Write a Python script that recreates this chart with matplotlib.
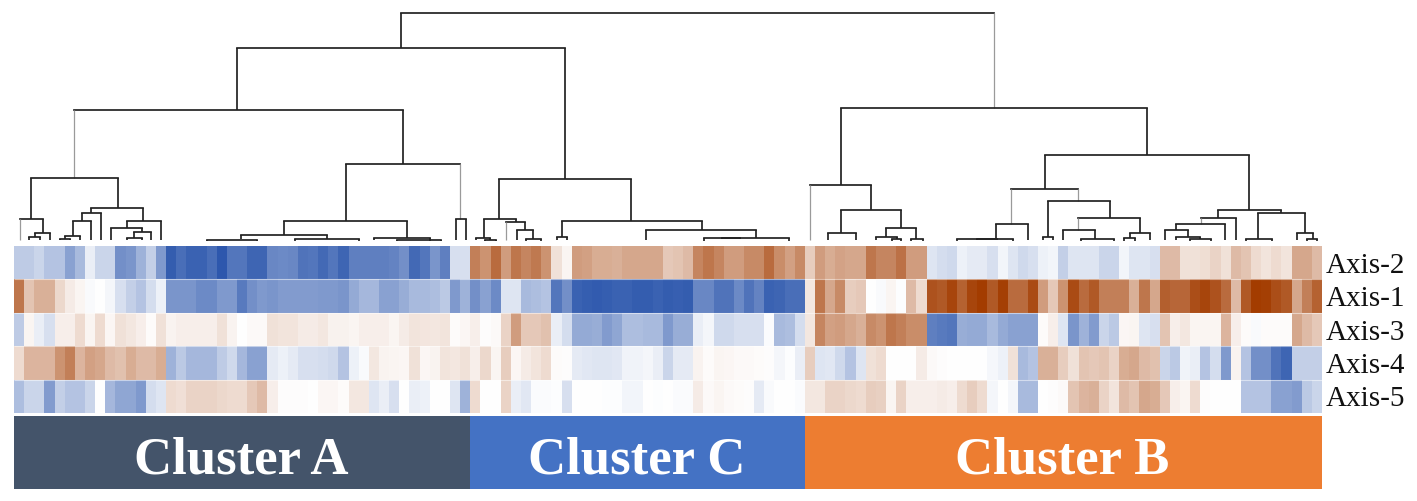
import numpy as np
import matplotlib
matplotlib.use('Agg')
import matplotlib.pyplot as plt
from matplotlib.colors import LinearSegmentedColormap

W, H = 1417, 501

# row labels, top to bottom
axis_names = ['Axis-2', 'Axis-1', 'Axis-3', 'Axis-4', 'Axis-5']

# cluster bands
cluster_names = ['Cluster A', 'Cluster C', 'Cluster B']
cluster_sizes = [45, 33, 51]
cluster_colors = ['#44546A', '#4472C4', '#ED7D31']

# heat values, -100 = full blue, 100 = full brown
axis_2 = [-30, -30, -25, -35, -35, -55, -40, -10, -25, -25, -65, -62, -45, -28, -60,
          -95, -85, -92, -92, -85, -98, -80, -80, -90, -90, -70, -68, -70, -82, -80,
          -88, -80, -90, -75, -75, -75, -75, -72, -65, -88, -80, -62, -75, -18, -18,
          65, 55, 75, 50, 70, 62, 68, 55, 15, 5, 50, 48, 42, 42, 40, 45, 45, 45, 45,
          28, 30, 35, 62, 70, 62, 50, 50, 60, 60, 75, 58, 48, 60,
          25, 50, 42, 47, 45, 45, 70, 62, 62, 72, 50, 50,
          -15, -20, -22, -8, -12, -12, -18, -6, -15, -22, -18, -8, -6, -28, -15, -15,
          -15, -25, -25, -6, -15, -15, -18, 35, 35, 15, 15, 17, 22, 15, 35, 30, 18, 14,
          18, 14, 45, 45, 35]
axis_1 = [70, 30, 40, 40, 20, 10, 5, -3, 0, -5, -18, -28, -35, -20, -8,
          -62, -62, -62, -68, -68, -60, -60, -78, -65, -60, -62, -58, -58, -58, -58,
          -60, -60, -62, -50, -42, -42, -55, -55, -48, -40, -40, -38, -32, -60, -45,
          -65, -55, -68, -15, -15, -40, -38, -35, -80, -65,
          -92, -94, -96, -94, -92, -92, -95, -95, -92, -95, -93, -95,
          -70, -70, -82, -82, -68, -82, -72, -92, -90, -85, -85,
          12, 70, 45, 60, 25, 28, 0, -3, 5, -1, 35, 18,
          88, 85, 95, 80, 95, 100, 85, 98, 75, 75, 92, 50, 28, 55, 92, 75, 85, 65, 65,
          65, 40, 70, 45, 82, 78, 78, 90, 95, 88, 75, 35, 85, 100, 98, 90, 85, 45, 65, 80]
axis_3 = [-30, 5, -10, -18, 8, 8, 18, 5, 18, 4, 15, 12, 8, 2, 15,
          6, 8, 8, 8, 8, 15, 6, 0, 3, 3, 15, 14, 14, 10, 10,
          12, 7, 7, 5, 8, 8, 8, 5, 10, 14, 13, 12, 14, 2, 4,
          8, 1, 3, 22, 50, 28, 28, 32, -10, -20, -50, -50, -48, -58, -52, -38, -38, -40,
          -40, -60, -48, -48, -10, -5, -22, -22, -18, -18, -18, -2, -40, -38, -20,
          12, 62, 48, 50, 45, 40, 60, 55, 70, 65, 58, 58,
          -75, -78, -80, -48, -50, -50, -40, -50, -55, -55, -55, 2, 8, -15, -62, -45, -58,
          -25, -32, 4, 5, -15, -18, 30, 8, 12, 5, 5, 5, 38, 8, 2, -3, 2, 2, 2, 45, 35, 28]
axis_4 = [18, 38, 38, 38, 55, 65, 38, 48, 45, 35, 32, 42, 35, 35, 42,
          -45, -32, -42, -42, -42, -30, -22, -42, -55, -55, -12, -8, -12, -18, -18,
          -20, -22, -35, -8, -3, 12, 6, 5, 4, 15, 4, 6, 14, 12, 15,
          8, 20, 5, 25, 4, 10, 14, 18, 2, 1, -12, -14, -15, -15, -14, -7, -7, -5, -10,
          -25, -12, -12, 6, 2, 5, 4, 3, 3, 2, 1, -5, -1, -10,
          25, -15, -14, -22, -35, -15, 15, 18, 0, 0, 0, 10,
          3, 1, 0, 0, 0, 0, -4, -8, 15, -40, -35, 40, 40, 25, 15, 30, 28, 30, 22, 42, 45,
          35, 32, -25, -32, -7, -10, -35, -20, -60, 6, -35, -65, -65, -82, -90, -28, -28, -28]
axis_5 = [-38, -25, -25, -58, -28, -35, -35, -25, 0, -42, -52, -52, -60, -20, -15,
          18, 16, 22, 22, 22, 20, 18, 18, 28, 35, 8, 1, 1, 1, 0,
          4, 4, 2, 12, 12, -15, -10, -18, 0, -10, -8, 0, 0, -15, -45,
          18, 0, 0, 22, -10, -14, -2, -2, -1, -18, 0, 0, 0, -1, -1, -6, -6, 0, -1,
          0, -2, -2, 10, 3, 5, 3, 2, 1, -12, -3, 0, 0, -2,
          12, 12, 22, 22, 20, 18, 25, 24, 5, 22, 8, 8,
          8, 10, 8, 18, 25, 18, -5, 0, -5, -40, -40, 0, 1, 3, 30, 38, 40, 22, 14, 35, 30,
          45, 42, 28, 8, 5, 18, 1, 0, 0, 0, -35, -35, -35, -55, -55, -58, -32, -25]

# dendrogram merges: left x, right x, height, left child height, right child height
# x on the picture's scale along the heatmap, height above the leaves
links = [
    # root
    (401, 994, 229, 194, 134),
    (237, 565, 194, 132, 63),
    (841, 1147, 134, 57, 87),
    # cluster A
    (74, 403, 132, 64, 78),
    (31, 118, 64, 23, 34),
    (20, 43, 23, 2, 9),
    (35, 50, 9, 5, 2),
    (29, 40, 5, 2, 2),
    (91, 143, 34, 29, 21),
    (82, 101, 29, 21, 2),
    (73, 91, 21, 6, 2),
    (65, 80, 6, 3, 2),
    (60, 70, 3, 2, 2),
    (127, 161, 21, 14, 2),
    (111, 142, 14, 2, 10),
    (134, 151, 10, 4, 2),
    (127, 142, 4, 2, 2),
    (346, 460, 78, 21, 23),
    (284, 407, 21, 7, 4),
    (456, 466, 23, 2, 2),
    (241, 327, 7, 3, 3),
    (207, 257, 2, 1, 1),
    (295, 359, 3, 1, 1),
    (374, 430, 4, 2, 1),
    (397, 441, 2, 1, 1),
    # cluster C
    (499, 631, 63, 23, 21),
    (484, 516, 23, 4, 20),
    (476, 490, 4, 2, 2),
    (485, 496, 2, 1, 1),
    (506, 525, 20, 2, 12),
    (517, 533, 12, 2, 3),
    (526, 541, 3, 1, 1),
    (562, 702, 21, 5, 12),
    (557, 567, 5, 2, 2),
    (646, 756, 12, 2, 4),
    (704, 789, 4, 1, 1),
    (722, 740, 4, 3, 3),
    # cluster B, left part
    (810, 871, 57, 2, 32),
    (841, 901, 32, 9, 14),
    (828, 856, 9, 2, 2),
    (886, 916, 14, 5, 3),
    (876, 897, 5, 2, 3),
    (892, 901, 3, 1, 1),
    (911, 923, 3, 1, 1),
    # cluster B, right part
    (1045, 1249, 87, 53, 32),
    (1011, 1078, 53, 18, 41),
    (996, 1028, 18, 3, 2),
    (957, 1013, 3, 1, 1),
    (977, 997, 3, 2, 2),
    (1048, 1110, 41, 5, 24),
    (1043, 1053, 5, 2, 2),
    (1078, 1140, 24, 12, 9),
    (1063, 1095, 12, 2, 3),
    (1081, 1114, 3, 1, 1),
    (1130, 1150, 9, 4, 2),
    (1124, 1135, 4, 1, 1),
    (1218, 1281, 32, 24, 29),
    (1201, 1236, 24, 18, 2),
    (1176, 1225, 18, 12, 2),
    (1165, 1188, 12, 2, 5),
    (1176, 1200, 5, 2, 3),
    (1190, 1211, 3, 1, 1),
    (1258, 1305, 29, 3, 9),
    (1246, 1272, 3, 1, 1),
    (1297, 1313, 9, 2, 3),
    (1307, 1317, 3, 1, 1),
]
# legs that come out thin and grey in the picture
grey_legs = [994, 74, 20, 460, 810, 1011, 1078, 1201, 506]


def add_axes_px(left, top, right, bottom):
    return fig.add_axes([left / W, 1 - bottom / H, (right - left) / W, (bottom - top) / H])


plt.rcParams['font.family'] = ['Liberation Serif', 'DejaVu Serif']
fig = plt.figure(figsize=(W / 100, H / 100), dpi=100)

# heatmap
cmap = LinearSegmentedColormap.from_list('bwbr', ['#2A55AC', '#FFFFFF', '#A33C00'])
values = np.array([axis_2, axis_1, axis_3, axis_4, axis_5])
ax_heat = add_axes_px(14, 246, 1322, 413)
ax_heat.imshow(values, cmap=cmap, vmin=-100, vmax=100, aspect='auto', interpolation='nearest')
ax_heat.set_xticks([])
ax_heat.set_yticks(range(len(axis_names)))
ax_heat.set_yticklabels(axis_names, fontsize=21, color='#111111')
ax_heat.yaxis.tick_right()
ax_heat.tick_params(axis='y', length=0, pad=3)
# faint light seams between the rows
ax_heat.hlines(np.arange(0.5, len(axis_names) - 1), -0.5, values.shape[1] - 0.5,
               color='white', lw=0.8, alpha=0.5)
for s in ax_heat.spines.values():
    s.set_visible(False)

# dendrogram
ax_tree = add_axes_px(14, 5, 1322, 246)
ax_tree.set_xlim(14, 1322)
ax_tree.set_ylim(-4, 237)
ax_tree.axis('off')
for x0, x1, h, h0, h1 in links:
    ax_tree.plot([x0, x1], [h, h], color='#222222', lw=1.25, solid_capstyle='projecting')
    for x, bottom in [(x0, h0), (x1, h1)]:
        if x in grey_legs:
            ax_tree.plot([x, x], [bottom, h], color='#9A9A9A', lw=0.9, solid_capstyle='butt')
        else:
            ax_tree.plot([x, x], [bottom, h], color='#222222', lw=1.25, solid_capstyle='butt')

# cluster bands
ax_band = add_axes_px(14, 416, 1322, 489)
ax_band.set_xlim(0, sum(cluster_sizes))
ax_band.set_ylim(0, 1)
ax_band.axis('off')
start = 0
for name, size, color in zip(cluster_names, cluster_sizes, cluster_colors):
    ax_band.barh(0.5, size, left=start, height=1, color=color)
    ax_band.text(start + size / 2 - 0.1, 0.39, name, color='white', fontsize=38, fontweight='bold',
                 ha='center', va='center')
    start += size

fig.savefig('out.png', dpi=100)
